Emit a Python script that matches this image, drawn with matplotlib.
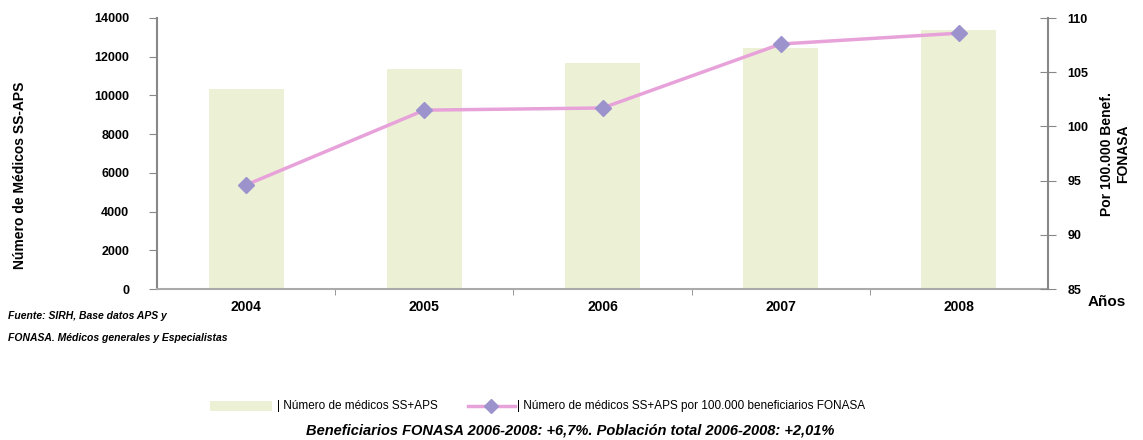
import matplotlib
matplotlib.use("Agg")
import matplotlib.pyplot as plt
from matplotlib.patches import Rectangle
from matplotlib.lines import Line2D

years = ["2004", "2005", "2006", "2007", "2008"]
medicos = [10350, 11350, 11700, 12450, 13380]
por_100k = [94.6, 101.5, 101.7, 107.6, 108.6]
left_ticks = [0, 2000, 4000, 6000, 8000, 10000, 12000, 14000]
right_ticks = [85, 90, 95, 100, 105, 110]
labels = ["Número de médicos SS+APS",
          "Número de médicos SS+APS por 100.000 beneficiarios FONASA"]

plt.rcParams['font.family'] = ['Liberation Sans Narrow', 'Liberation Sans', 'DejaVu Sans']

W, H = 1143, 440
fig = plt.figure(figsize=(W/100, H/100), dpi=100)
ax = fig.add_axes([157/W, 1-289/H, (1048-157)/W, (289-18)/H])
x = list(range(len(years)))
bar_color = "#ECF1D6"
line_color = "#E8A2DA"
marker_color = "#9D93CC"
ax.bar(x, medicos, width=0.42, color=bar_color, zorder=1)
ax.set_xlim(-0.5, len(years)-0.5)
ax.set_ylim(0, 14000)
ax.set_yticks(left_ticks)
ax.set_yticklabels([str(t) for t in left_ticks], fontsize=9, fontweight='bold')
ax.set_xticks(x)
ax.set_xticklabels(years, fontsize=10, fontweight='bold')
ax.tick_params(axis='x', length=0, pad=8)
ax.set_xticks([i + 0.5 for i in range(len(years)-1)], minor=True)
ax.tick_params(axis='x', which='minor', length=4, color='#888888', direction='out')
ax.tick_params(axis='y', length=6, color='#888888', direction='out', pad=14)
for s in ['top', 'right']:
    ax.spines[s].set_visible(False)
ax.spines['left'].set_color('#888888')
ax.spines['bottom'].set_color('#aaaaaa')
ax.spines['left'].set_linewidth(1.5)
ax.spines['bottom'].set_linewidth(1.5)
ax.set_ylabel("Número de Médicos SS-APS", fontsize=10, fontweight='bold')
ax.yaxis.set_label_coords((27-157)/(1048-157), 0.42)

ax2 = ax.twinx()
ax2.plot(x, por_100k, color=line_color, linewidth=2.5, marker='D', markersize=8,
         markerfacecolor=marker_color, markeredgecolor=marker_color, zorder=3)
ax2.set_ylim(85, 110)
ax2.set_yticks(right_ticks)
ax2.set_yticklabels([str(t) for t in right_ticks], fontsize=9, fontweight='bold')
ax2.tick_params(axis='y', length=12, color='#888888', direction='inout', pad=8)
for s in ['top', 'left', 'bottom']:
    ax2.spines[s].set_visible(False)
ax2.spines['right'].set_color('#888888')
ax2.spines['right'].set_linewidth(1.5)
ax2.set_ylabel("Por 100.000 Benef.\nFONASA", fontsize=10, fontweight='bold', labelpad=8)

fig.text(1088/W, 1-302/H, "Años", fontsize=11, fontweight='bold', va='center', ha='left')

fig.text(8/W, 1-316/H, "Fuente: SIRH, Base datos APS y", fontsize=7.5,
         fontweight='bold', style='italic', va='center')
fig.text(8/W, 1-338/H, "FONASA. Médicos generales y Especialistas", fontsize=7.5,
         fontweight='bold', style='italic', va='center')

# legend drawn manually
ly = 1 - 406/H
fig.add_artist(Rectangle((210/W, ly - 5/H), 62/W, 10/H, transform=fig.transFigure,
                         facecolor=bar_color, edgecolor='none'))
fig.text(277/W, ly, "| " + labels[0], fontsize=8.5, va='center', ha='left')
fig.add_artist(Line2D([468/W, 515/W], [ly, ly], transform=fig.transFigure,
                      color=line_color, linewidth=2.5))
fig.add_artist(Line2D([491/W], [ly], transform=fig.transFigure, marker='D',
                      markersize=7, markerfacecolor=marker_color,
                      markeredgecolor=marker_color, linestyle='none'))
fig.text(517/W, ly, "| " + labels[1], fontsize=8.5, va='center', ha='left')

fig.text(570/W, 1-430/H,
         "Beneficiarios FONASA 2006-2008: +6,7%. Población total 2006-2008: +2,01%",
         fontsize=10.5, fontweight='bold', style='italic', ha='center', va='center')

fig.savefig("out.png", dpi=100)
